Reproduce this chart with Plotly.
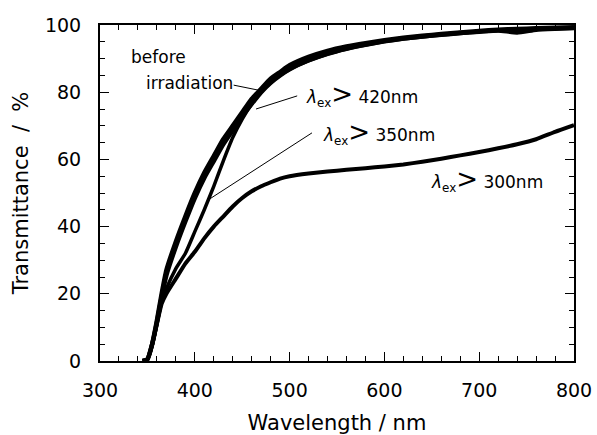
import plotly.graph_objects as go

wavelength = [345, 350, 355, 360, 365, 370, 380, 390, 400, 410, 420, 430, 440, 450, 460,
              470, 480, 490, 500, 520, 540, 560, 580, 600, 620, 640, 660, 680, 700, 720,
              740, 760, 780, 800]

before_irr = [0, 0.5, 5, 12, 20, 27, 35.5, 43, 50, 56, 61, 66, 70, 74, 78,
              81, 84, 86, 88, 90.5, 92.3, 93.6, 94.6, 95.5, 96.2, 96.8, 97.3, 97.8, 98.2, 98.6,
              98.8, 99.0, 99.2, 99.3]

ex420 = [0, 0.5, 5, 11.5, 19, 25.5, 34, 41.5, 48.5, 54.5, 59.5, 64.5, 68.7, 72.8, 76.5,
         80, 82.8, 85, 86.8, 89.5, 91.5, 93, 94.2, 95.2, 96, 96.6, 97.1, 97.6, 98, 98.4,
         97.8, 98.6, 98.9, 99.1]

ex350 = [0, 0.5, 4.5, 11, 17.5, 21.5, 27.5, 32, 38.5, 45, 52, 59.5, 66.5, 72, 76.5,
         80, 82.8, 85, 86.8, 89.3, 91.3, 92.8, 94, 95, 95.8, 96.4, 97, 97.5, 97.9, 98.3,
         98.5, 98.7, 98.9, 99]

ex300 = [0, 0.5, 5, 11, 17, 20, 24.5, 29, 32.5, 36.5, 40, 43, 46, 48.5, 50.5,
         52, 53.2, 54.3, 55, 55.8, 56.4, 56.9, 57.4, 57.9, 58.5, 59.3, 60.2, 61.2, 62.2, 63.3,
         64.5, 66, 68.2, 70.2]

FONT = "DejaVu Sans"

fig = go.Figure()
for ys, w in [(before_irr, 4.5), (ex420, 4.5), (ex350, 3.5), (ex300, 4)]:
    fig.add_trace(go.Scatter(x=wavelength, y=ys, mode="lines",
                             line=dict(color="black", width=w, shape="spline", smoothing=0.5),
                             showlegend=False))

fig.update_layout(
    width=597, height=435,
    margin=dict(l=100, r=23, t=25, b=74, autoexpand=False),
    paper_bgcolor="white", plot_bgcolor="white",
    font=dict(family=FONT, color="black", size=17),
)

fig.update_xaxes(
    range=[300, 800], dtick=100, tick0=300, ticks="inside", ticklen=9, tickwidth=1,
    tickcolor="black", showline=True, linecolor="black", linewidth=2, mirror="ticks",
    showgrid=False, zeroline=False, tickfont=dict(size=19, family=FONT),
    ticklabelstandoff=11, automargin=False,
    minor=dict(dtick=20, ticks="inside", ticklen=5, tickcolor="black", tickwidth=1, showgrid=False),
    title=dict(text="Wavelength / nm", font=dict(size=21, family=FONT), standoff=19),
)
fig.update_yaxes(
    range=[0, 100], dtick=20, ticks="inside", ticklen=9, tickwidth=1,
    tickcolor="black", showline=True, linecolor="black", linewidth=2, mirror="ticks",
    showgrid=False, zeroline=False, tickfont=dict(size=19, family=FONT),
    ticklabelstandoff=13, automargin=False,
    minor=dict(dtick=5, ticks="inside", ticklen=5, tickcolor="black", tickwidth=1, showgrid=False),
    title=dict(text="Transmittance  /  %", font=dict(size=21, family=FONT), standoff=11),
)

# leader lines
for x0, y0, x1, y1 in [(441, 82.1, 469, 80.5), (508, 78.9, 464.6, 75), (523.6, 67.9, 413.9, 47.9)]:
    fig.add_shape(type="line", x0=x0, y0=y0, x1=x1, y1=y1, xref="x", yref="y",
                  line=dict(color="black", width=1))

labels = [
    ("before", 331, 90.5),
    ("irradiation", 346, 82.7),
    ("<i>λ</i><sub>ex</sub><span style='font-size:26px'>&gt;</span> 420nm", 515, 79.3),
    ("<i>λ</i><sub>ex</sub><span style='font-size:26px'>&gt;</span> 350nm", 533, 68.0),
    ("<i>λ</i><sub>ex</sub><span style='font-size:26px'>&gt;</span> 300nm", 647, 54.0),
]
for txt, x, y in labels:
    fig.add_annotation(text=txt, x=x, y=y, xref="x", yref="y", showarrow=False,
                       xanchor="left", yanchor="middle", font=dict(size=17, family=FONT))

fig.write_html(
    "out.html",
    config={"displayModeBar": False},
    post_script="document.body.style.margin='0';document.body.style.overflow='hidden';",
)
